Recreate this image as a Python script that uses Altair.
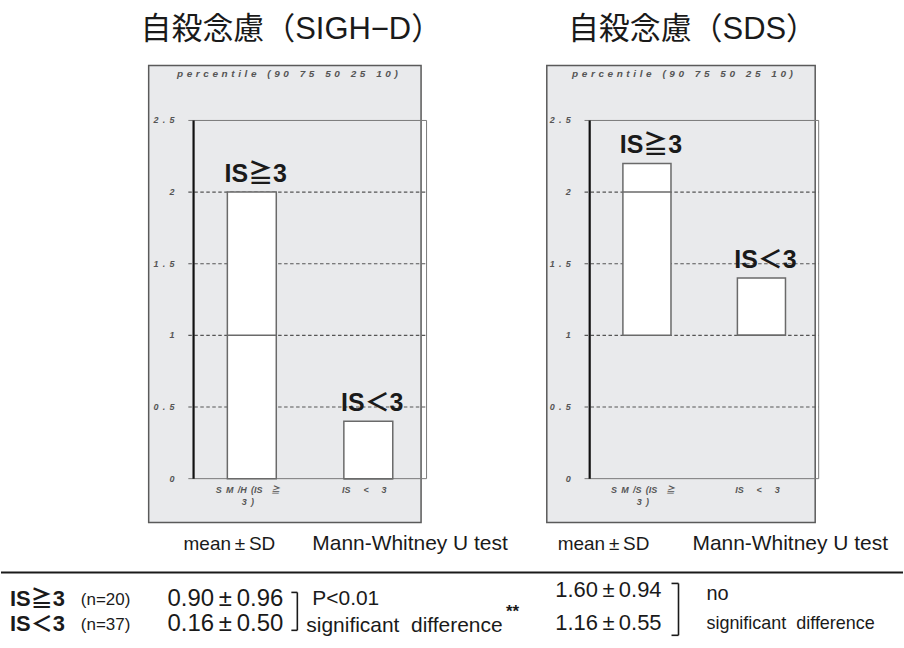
import altair as alt
import pandas as pd

# ---------------- data ----------------
GROUPS = ["IS≧3", "IS＜3"]
GROUP_POS = [1, 2]

# percentile boxes (10, 25, 50, 75, 90) for each panel
SIGH_P10 = [0.0, 0.0]
SIGH_P25 = [0.0, 0.0]
SIGH_P50 = [1.0, 0.0]
SIGH_P75 = [2.0, 0.4]
SIGH_P90 = [2.0, 0.4]

SDS_P10 = [1.0, 1.0]
SDS_P25 = [1.0, 1.0]
SDS_P50 = [2.0, 1.0]
SDS_P75 = [2.2, 1.4]
SDS_P90 = [2.2, 1.4]

Y_TICKS = [0, 0.5, 1, 1.5, 2, 2.5]
Y_TICK_LABELS = ["0", "0 . 5", "1", "1 . 5", "2", "2 . 5"]
GRID_LEVELS = [0.5, 1, 1.5, 2]

SIGH_XLABEL_1 = ["S M /H (IS  ≧", "IS   <   3"]
SIGH_XLABEL_2 = ["3 )", ""]
SDS_XLABEL_1 = ["S M /S (IS  ≧", "IS   <   3"]
SDS_XLABEL_2 = ["3 )", ""]

PANEL_TITLES = ["自殺念慮（SIGH−D）", "自殺念慮（SDS）"]
HEADER = "p e r c e n t i l e   ( 9 0   7 5   5 0   2 5   1 0 )"

# summary table
TABLE_HEAD = ["mean ± SD", "Mann-Whitney U test"]
ROW_GROUPS = ["IS≧3", "IS＜3"]
ROW_N = ["(n=20)", "(n=37)"]
SIGH_MEAN_SD = ["0.90 ± 0.96", "0.16 ± 0.50"]
SDS_MEAN_SD = ["1.60 ± 0.94", "1.16 ± 0.55"]
SIGH_TEST = ["P<0.01", "significant  difference", "**"]
SDS_TEST = ["no", "significant  difference"]

# ---------------- styling ----------------
SANS = "Liberation Sans, Noto Sans CJK JP"
PANEL_W, PANEL_H = 452, 530
TABLE_H = 118
Y_DOMAIN = [-0.3552, 3.3357]
GRID_START = 0.455
BOX_HALF = 0.21
FRAME_GRAY = "#e9eaec"
LINE_GRAY = "#6a6a6a"

NB = "\u00a0"       # non-collapsing space
THIN = "\u2009"
HAIR = "\u200a"


def spaced(s, gap=NB):
    """Keep runs of spaces visible in SVG text."""
    return s.replace(" ", gap)


def tracked(s, extra=HAIR):
    """Letter-spaced look of the plotting program's small labels."""
    return s.replace(" ", NB + extra)


def pm(s, gap):
    return s.replace(" ± ", gap + "±" + gap)


def panel(p10, p25, p50, p75, p90, xl1, xl2, title, xdom, box_px, title_x, head_x):
    df = pd.DataFrame({
        "group": GROUPS, "pos": GROUP_POS,
        "p10": p10, "p25": p25, "p50": p50, "p75": p75, "p90": p90,
        "xl1": [tracked(s, THIN) for s in xl1], "xl2": [tracked(s, THIN) for s in xl2],
    })
    xs = alt.Scale(domain=xdom, nice=False, zero=False)
    ys = alt.Scale(domain=Y_DOMAIN, nice=False, zero=False)

    def X(f):
        return alt.X(f, type="quantitative", scale=xs, axis=None)

    def Y(f):
        return alt.Y(f, type="quantitative", scale=ys, axis=None)

    one = pd.DataFrame({"k": [0]})

    # gray backdrop of the figure
    backdrop = alt.Chart(one).mark_rect(
        fill=FRAME_GRAY, stroke="#5a5a5a", strokeWidth=1.5
    ).encode(
        x=alt.value(box_px[0]), x2=alt.value(box_px[1]),
        y=alt.value(box_px[2]), y2=alt.value(box_px[3]),
    )

    title_txt = alt.Chart(pd.DataFrame({"t": [title]})).mark_text(
        font=SANS, fontSize=31, color="#1a1a1a", baseline="middle", align="center"
    ).encode(x=alt.value(title_x), y=alt.value(29), text="t:N")

    header_txt = alt.Chart(pd.DataFrame({"t": [tracked(HEADER)]})).mark_text(
        font=SANS, fontSize=10, fontStyle="italic", fontWeight="bold",
        color="#555555", baseline="middle", align="center"
    ).encode(x=alt.value(head_x), y=alt.value(73), text="t:N")

    # dashed gridlines
    grid_df = pd.DataFrame({"lvl": GRID_LEVELS, "x0": GRID_START, "x1": 2.5})
    grid = alt.Chart(grid_df).mark_rule(
        color="#555555", strokeWidth=1.2, strokeDash=[3.5, 2.5]
    ).encode(x=X("x0"), x2="x1", y=Y("lvl"))

    # inner frame: top, bottom, right
    frame_df = pd.DataFrame({
        "x0": [GRID_START, GRID_START, 2.5],
        "x1": [2.5, 2.5, 2.5],
        "y0": [2.5, 0.0, 0.0],
        "y1": [2.5, 0.0, 2.5],
    })
    frame = alt.Chart(frame_df).mark_rule(color="#7a7a7a", strokeWidth=1).encode(
        x=X("x0"), x2="x1", y=Y("y0"), y2="y1"
    )

    # y axis line
    axis_df = pd.DataFrame({"x0": [0.5], "y0": [0.0], "y1": [2.5]})
    axis = alt.Chart(axis_df).mark_rule(color="#111111", strokeWidth=2.2).encode(
        x=X("x0"), y=Y("y0"), y2="y1"
    )

    tick_df = pd.DataFrame({"v": Y_TICKS, "lab": [tracked(s, THIN) for s in Y_TICK_LABELS], "x0": 0.5})
    tick_labels = alt.Chart(tick_df).mark_text(
        font=SANS, fontSize=9, fontStyle="italic", fontWeight="bold",
        color="#555555", align="right", baseline="middle", dx=-19
    ).encode(x=X("x0"), y=Y("v"), text="lab:N")

    base = alt.Chart(df).transform_calculate(
        left=f"datum.pos - {BOX_HALF}", right=f"datum.pos + {BOX_HALF}", zero="0"
    )

    whisk_hi = base.mark_rule(color=LINE_GRAY, strokeWidth=1.5).encode(
        x=X("pos"), y=Y("p75"), y2="p90"
    )
    whisk_lo = base.mark_rule(color=LINE_GRAY, strokeWidth=1.5).encode(
        x=X("pos"), y=Y("p10"), y2="p25"
    )
    boxes = base.mark_rect(fill="white", stroke=LINE_GRAY, strokeWidth=1.5).encode(
        x=X("left"), x2="right", y=Y("p25"), y2="p75"
    )
    medians = base.mark_rule(color=LINE_GRAY, strokeWidth=1.5).encode(
        x=X("left"), x2="right", y=Y("p50")
    )
    group_labels = base.mark_text(
        font=SANS, fontSize=25, fontWeight="bold", color="#1a1a1a",
        baseline="bottom", align="center", dy=-5, dx=4
    ).encode(x=X("pos"), y=Y("p90"), text="group:N")

    xlab1 = base.mark_text(
        font=SANS, fontSize=9, fontStyle="italic", fontWeight="bold",
        color="#555555", baseline="middle", align="center", dy=11, dx=-4
    ).encode(x=X("pos"), y=Y("zero"), text="xl1:N")
    xlab2 = base.mark_text(
        font=SANS, fontSize=9, fontStyle="italic", fontWeight="bold",
        color="#555555", baseline="middle", align="center", dy=23, dx=-4
    ).encode(x=X("pos"), y=Y("zero"), text="xl2:N")

    return alt.layer(
        backdrop, title_txt, header_txt, grid, frame, axis, tick_labels,
        whisk_hi, whisk_lo, boxes, medians, group_labels, xlab1, xlab2,
    ).properties(width=PANEL_W, height=PANEL_H)


left = panel(SIGH_P10, SIGH_P25, SIGH_P50, SIGH_P75, SIGH_P90,
             SIGH_XLABEL_1, SIGH_XLABEL_2, PANEL_TITLES[0],
             [-1.1531, 2.7184], [148, 421, 65, 523], 291, 287)
right = panel(SDS_P10, SDS_P25, SDS_P50, SDS_P75, SDS_P90,
              SDS_XLABEL_1, SDS_XLABEL_2, PANEL_TITLES[1],
              [-0.7026, 3.2364], [95, 364, 65, 523], 241, 231)


# ---------------- table ----------------
def txt(value, x, y, size, align="left", weight="normal"):
    return alt.Chart(pd.DataFrame({"t": [value]})).mark_text(
        font=SANS, fontSize=size, fontWeight=weight, color="#1a1a1a",
        align=align, baseline="middle"
    ).encode(x=alt.value(x), y=alt.value(y), text="t:N")


def seg(x0, x1, y0, y1, width=1.6):
    return alt.Chart(pd.DataFrame({"k": [0]})).mark_rule(
        color="#1a1a1a", strokeWidth=width
    ).encode(x=alt.value(x0), x2=alt.value(x1), y=alt.value(y0), y2=alt.value(y1))


ROW_Y = [70, 95]
head_mean = pm(TABLE_HEAD[0], THIN)
table_layers = [
    txt(head_mean, 183, 15, 19), txt(TABLE_HEAD[1], 312, 15, 21),
    txt(head_mean, 558, 15, 19), txt(TABLE_HEAD[1], 693, 15, 21),
    seg(0, 904, 43, 43, 2),
]
for i in range(2):
    table_layers += [
        txt(ROW_GROUPS[i], 9, ROW_Y[i], 22, weight="bold"),
        txt(ROW_N[i], 80, ROW_Y[i] + 1, 17),
        txt(pm(SIGH_MEAN_SD[i], THIN), 283, ROW_Y[i], 24, align="right"),
    ]
table_layers += [
    txt(SIGH_TEST[0], 312, 70, 21),
    txt(spaced(SIGH_TEST[1]), 306, 97, 21),
    txt(SIGH_TEST[2], 506, 83, 17, weight="bold"),
    txt(pm(SDS_MEAN_SD[0], THIN), 662, 61, 22, align="right"),
    txt(pm(SDS_MEAN_SD[1], THIN), 662, 94, 22, align="right"),
    txt(SDS_TEST[0], 707, 65, 20),
    txt(spaced(SDS_TEST[1]), 707, 95, 18),
    # brackets
    seg(297, 297, 63, 101), seg(291, 297, 63, 63), seg(291, 297, 101, 101),
    seg(679, 679, 54, 106), seg(672, 679, 54, 54), seg(672, 679, 106, 106),
]
table = alt.layer(*table_layers).properties(width=904, height=TABLE_H)

chart = alt.vconcat(
    alt.hconcat(left, right, spacing=0),
    table,
    spacing=0,
).properties(padding=0, background="white").configure_view(stroke=None)

chart.save("out.html", embed_options={"renderer": "svg", "actions": False})
